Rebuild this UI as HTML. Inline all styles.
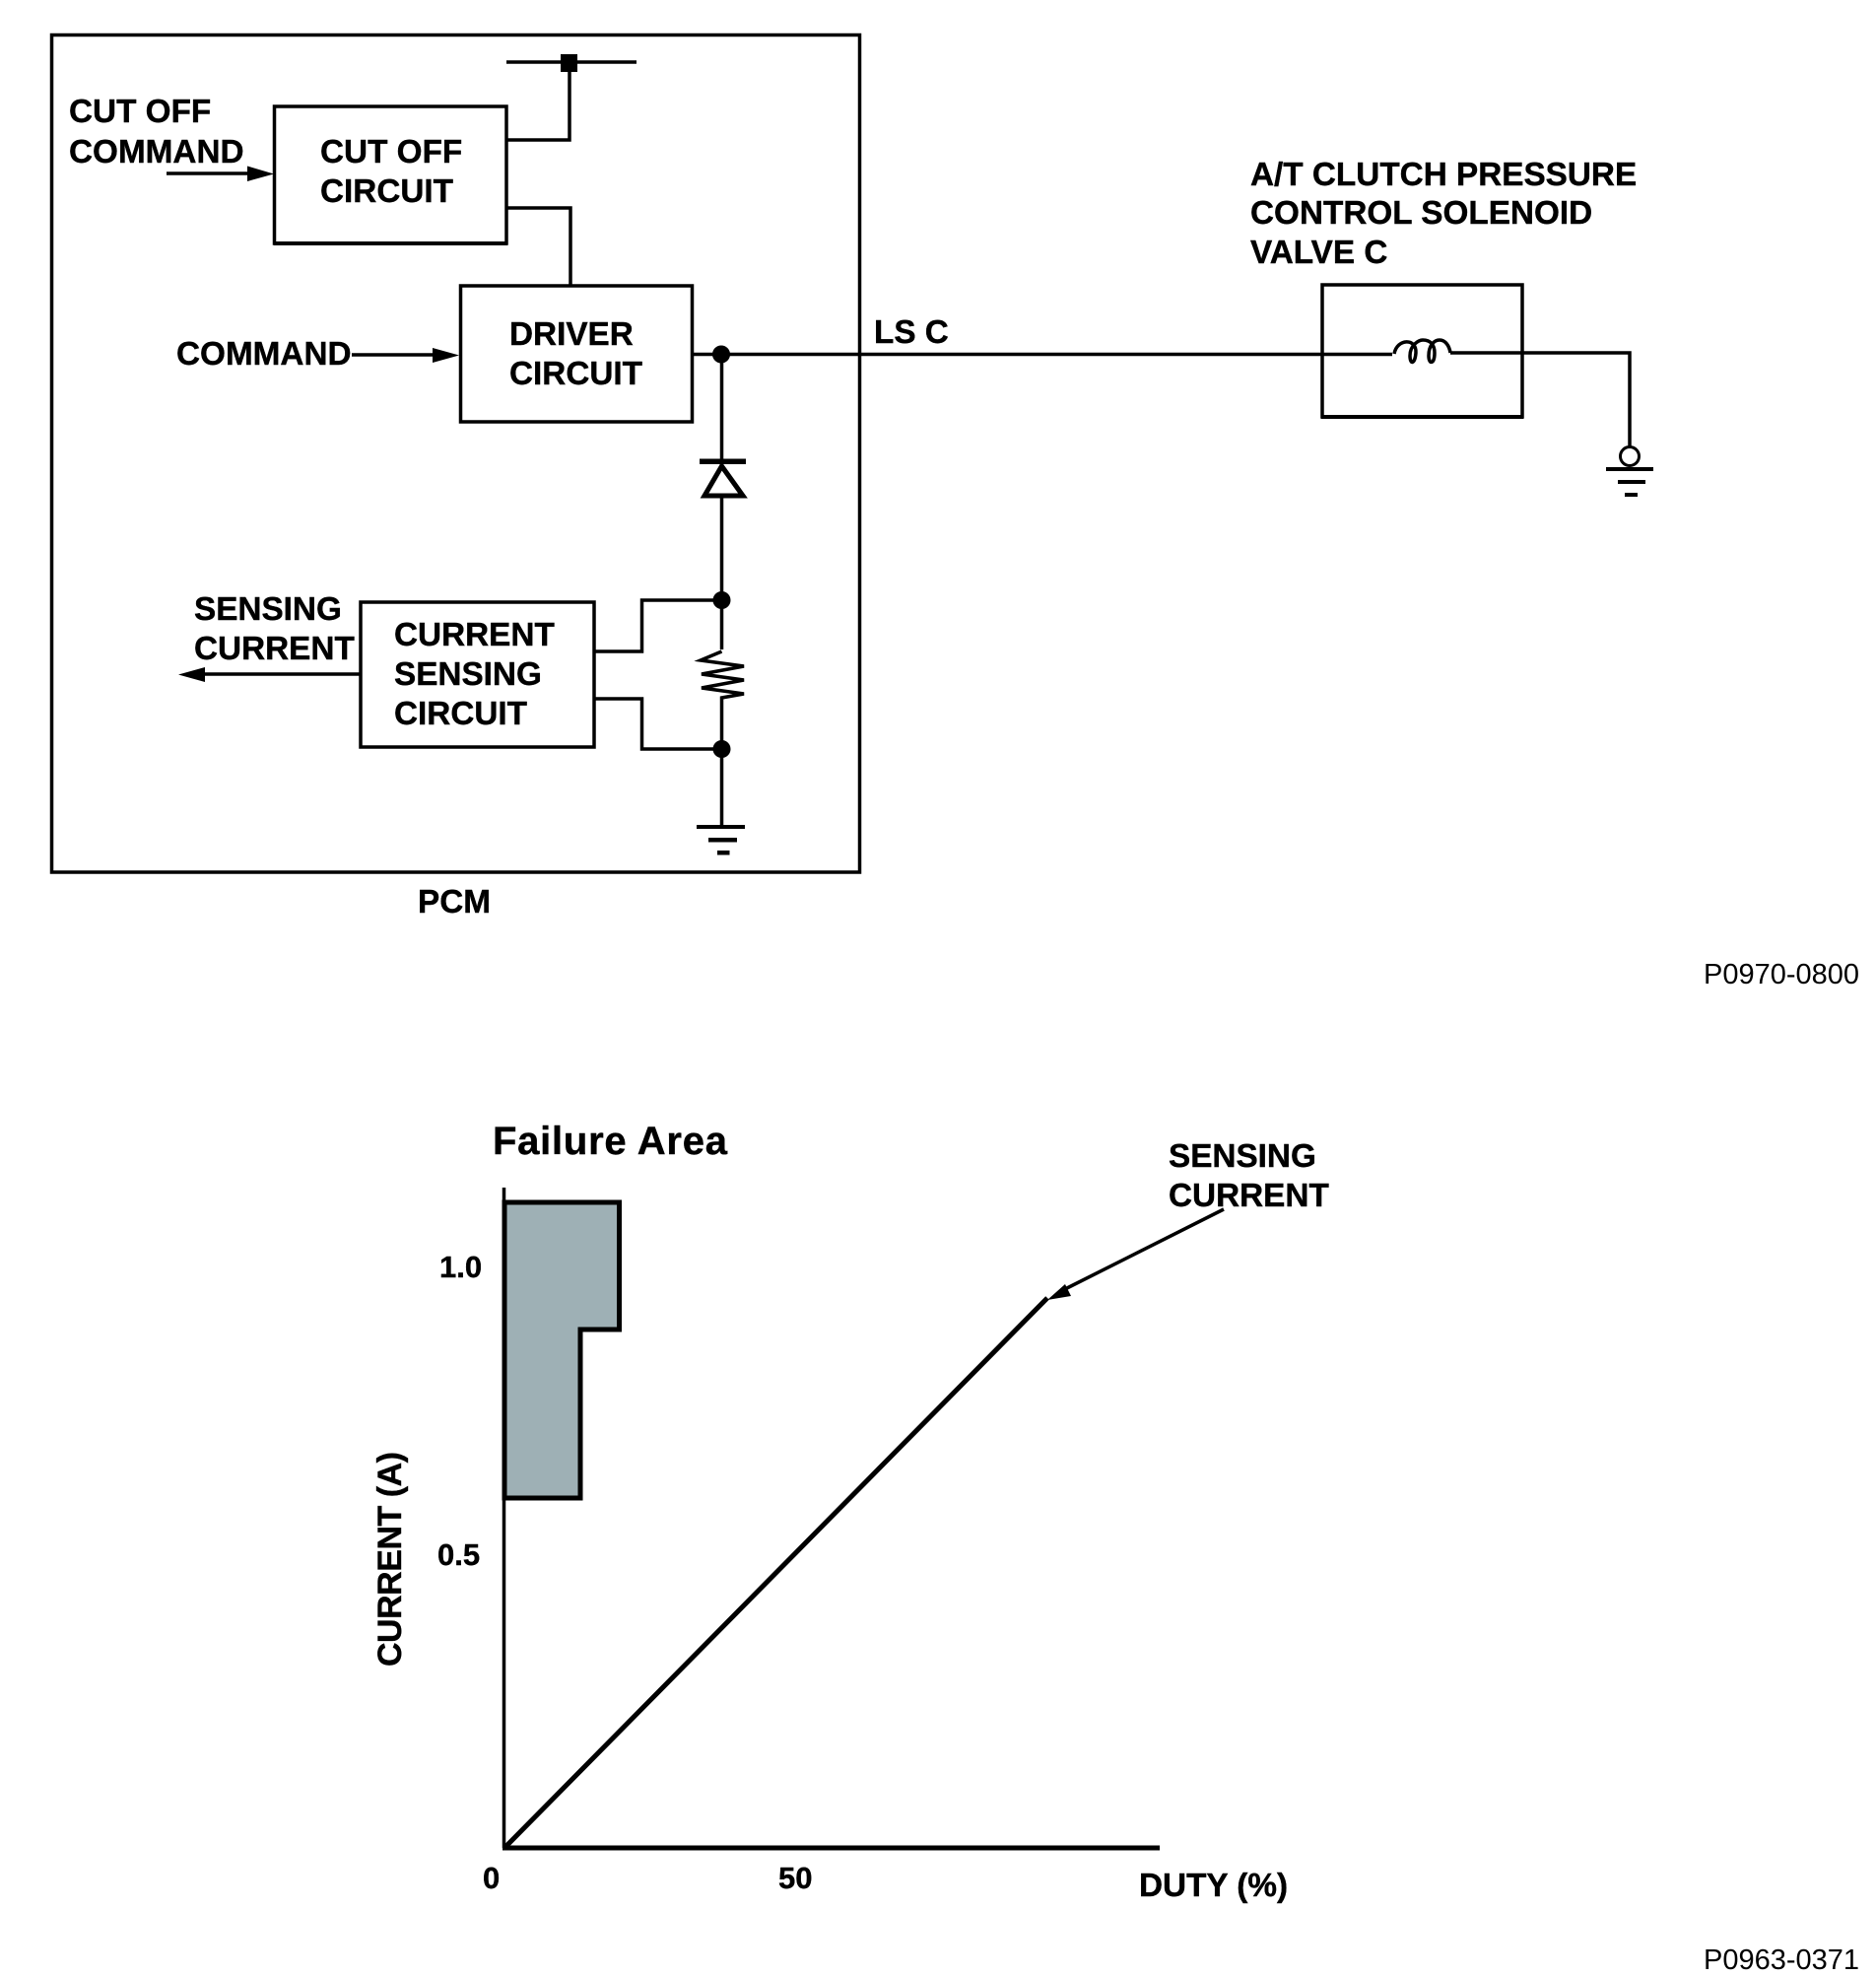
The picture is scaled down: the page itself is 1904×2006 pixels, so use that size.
<!DOCTYPE html>
<html>
<head>
<meta charset="utf-8">
<title>PCM circuit diagram</title>
<style>
html,body{margin:0;padding:0;background:#fff;width:1904px;height:2006px;overflow:hidden}
svg{display:block}
text{font-family:"Liberation Sans",Arial,sans-serif;font-weight:bold;font-size:33.3px;fill:#000;stroke:#000;stroke-width:.4}
.r{font-weight:normal;font-size:29px;stroke:none}
.l{fill:none;stroke:#000;stroke-width:3.5;stroke-linejoin:miter}
</style>
</head>
<body>
<svg width="1904" height="2006" viewBox="0 0 1904 2006" xmlns="http://www.w3.org/2000/svg">
<rect width="1904" height="2006" fill="#fff"/>

<!-- PCM box -->
<rect class="l" x="52.5" y="35.5" width="820" height="849.5"/>

<!-- Bus + connections -->
<path class="l" d="M514 63H646"/>
<rect x="569" y="55" width="17" height="18" fill="#000"/>
<path class="l" d="M578 73V142H514"/>
<path class="l" d="M514 211H579V290"/>

<!-- Cut off circuit -->
<rect class="l" x="278.5" y="108" width="235.5" height="139"/>
<path d="M278 245H515V249H278Z" fill="#000"/>
<path class="l" d="M169 176H255"/>
<path d="M251 168.5L278 176.5L251 184Z" fill="#000"/>

<!-- Driver circuit -->
<rect class="l" x="467.5" y="290" width="235" height="138"/>
<path class="l" d="M357 360H445"/>
<path d="M439 353L466 360.5L439 368Z" fill="#000"/>

<!-- LS C wire -->
<path class="l" d="M703 359.5H1413"/>
<circle cx="732" cy="359.5" r="9" fill="#000"/>
<path class="l" d="M732.5 359V470"/>

<!-- Diode -->
<path d="M710 465.5H757V471H710Z" fill="#000"/>
<path d="M732.5 473L754 503H715Z" fill="#fff" stroke="#000" stroke-width="5"/>
<path class="l" d="M732.5 503V659"/>
<circle cx="732.5" cy="609" r="9" fill="#000"/>

<!-- Resistor -->
<path class="l" d="M732.5 661L711 670L755 676L712 684L755 690L712 698L755 704L732.5 708V761" stroke-width="4"/>
<circle cx="732.5" cy="760" r="9" fill="#000"/>
<path class="l" d="M732.5 761V839"/>

<!-- PCM ground -->
<path d="M707 837H756V841H707Z M719 850H748V854.5H719Z M728 863H740.5V867.5H728Z" fill="#000"/>

<!-- Sensing circuit -->
<rect class="l" x="366" y="611" width="237" height="147"/>
<path class="l" d="M603 661H651.5V609H733" stroke-width="4"/>
<path class="l" d="M603 709H651.5V760H733"/>
<path class="l" d="M366 684H205" stroke-width="4"/>
<path d="M181 684.5L208 677V692Z" fill="#000"/>

<!-- Solenoid -->
<rect class="l" x="1342" y="289" width="203" height="134"/>
<path d="M1341 421H1546V425H1341Z" fill="#000"/>
<path class="l" d="M1415 359C1418 343 1438 343 1437 358C1436 370 1431 370 1431 361C1431 350 1440 345 1444 345C1452 345 1456 350 1456 358C1456 370 1450 370 1450 361C1450 350 1456 345 1461 345C1467 345 1471 351 1472 358"/>
<path class="l" d="M1472 358H1654V453"/>
<ellipse cx="1654" cy="463" rx="9.5" ry="9.5" fill="#fff" stroke="#000" stroke-width="3"/>
<path d="M1630 474H1678V478H1630Z M1642 487H1670V491H1642Z M1649 500H1662V504H1649Z" fill="#000"/>

<!-- Diagram 1 labels -->
<text x="70" y="124">CUT OFF</text>
<text x="70" y="165">COMMAND</text>
<text x="325" y="165">CUT OFF</text>
<text x="325" y="205">CIRCUIT</text>
<text x="517" y="350">DRIVER</text>
<text x="517" y="390">CIRCUIT</text>
<text x="179" y="370">COMMAND</text>
<text x="887" y="348">LS C</text>
<text x="1269" y="188">A/T CLUTCH PRESSURE</text>
<text x="1269" y="227">CONTROL SOLENOID</text>
<text x="1269" y="267">VALVE C</text>
<text x="197" y="629">SENSING</text>
<text x="197" y="669">CURRENT</text>
<text x="400" y="655">CURRENT</text>
<text x="400" y="695">SENSING</text>
<text x="400" y="735">CIRCUIT</text>
<text x="424" y="926">PCM</text>
<text class="r" x="1729" y="998">P0970-0800</text>

<!-- Chart -->
<path d="M512 1220H628.5V1349H589V1520H512Z" fill="#9eb0b5" stroke="#000" stroke-width="5"/>
<path class="l" d="M511.5 1205V1875" stroke-width="5"/>
<path d="M510 1872.5H1177V1877.5H510Z" fill="#000"/>
<path d="M512 1875L1063 1317" fill="none" stroke="#000" stroke-width="5"/>
<path class="l" d="M1242 1227L1075 1311" stroke-width="2.5"/>
<path d="M1063 1319L1081 1303L1087 1315Z" fill="#000"/>

<text x="500" y="1171" style="font-size:40px" textLength="238">Failure Area</text>
<text x="1186" y="1184">SENSING</text>
<text x="1186" y="1224">CURRENT</text>
<text x="446" y="1296" style="font-size:31px">1.0</text>
<text x="444" y="1588" style="font-size:31px">0.5</text>
<text x="490" y="1916" style="font-size:31px">0</text>
<text x="790" y="1916" style="font-size:31px">50</text>
<text x="1156" y="1924">DUTY (%)</text>
<text transform="translate(407 1691) rotate(-90)" style="font-size:34px" textLength="218">CURRENT (A)</text>
<text class="r" x="1729" y="1998">P0963-0371</text>
</svg>
</body>
</html>
